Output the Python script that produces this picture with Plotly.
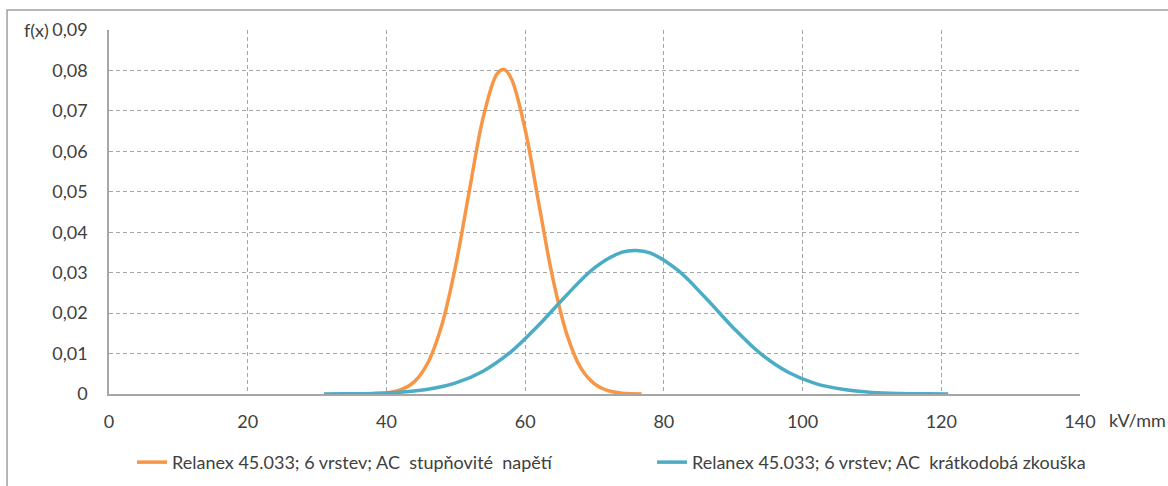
import plotly.graph_objects as go

# ---- data ----
orange_x = [40, 42, 44, 46, 48, 50, 52, 54, 56, 57, 58, 60, 62, 64, 66, 68, 70, 72, 74, 76.8]
orange_y = [0.00028, 0.0010, 0.0030, 0.0078, 0.0171, 0.0319, 0.0507, 0.0687, 0.0793, 0.0802,
            0.0780, 0.0654, 0.0468, 0.0285, 0.0148, 0.0065, 0.0025, 0.0008, 0.0002, 0.00003]

blue_x = [31, 34, 38, 42, 46, 50, 54, 58, 62, 66, 70, 74, 76, 78, 82, 86, 90, 94, 98, 102,
          106, 110, 114, 118, 121]
blue_y = [0.00002, 0.00004, 0.00015, 0.00044, 0.00117, 0.00274, 0.00571, 0.0105, 0.0171,
          0.0245, 0.0312, 0.0351, 0.0355, 0.0349, 0.0306, 0.0238, 0.0164, 0.0099, 0.0053,
          0.0025, 0.0011, 0.0004, 0.00013, 0.00004, 0.00001]

orange_name = "Relanex 45.033; 6 vrstev; AC \u00a0stupňovité \u00a0napětí"
blue_name = "Relanex 45.033; 6 vrstev; AC \u00a0krátkodobá zkouška"

x_ticks = [0, 20, 40, 60, 80, 100, 120, 140]
x_tick_labels = ["0", "20", "40", "60", "80", "100", "120", "140"]
y_ticks = [0, 0.01, 0.02, 0.03, 0.04, 0.05, 0.06, 0.07, 0.08, 0.09]
y_tick_labels = ["0", "0,01", "0,02", "0,03", "0,04", "0,05", "0,06", "0,07", "0,08", "0,09"]

FONT = "Lato"
FS = 18
TXT = "#404040"
GRID = "#a6a6a6"
DASH = "4px,3px"

fig = go.Figure()
fig.add_trace(go.Scatter(x=orange_x, y=orange_y, mode="lines", name=orange_name, legend="legend",
                         line=dict(color="#F79646", width=3.5, shape="spline", smoothing=1.0)))
fig.add_trace(go.Scatter(x=blue_x, y=blue_y, mode="lines", name=blue_name, legend="legend2",
                         line=dict(color="#4BACC6", width=3.5, shape="spline", smoothing=1.0)))

leg_common = dict(orientation="h", xanchor="left", y=-0.188, yanchor="middle",
                  font=dict(family=FONT, size=FS, color=TXT), bgcolor="rgba(0,0,0,0)")

fig.update_layout(
    width=1168, height=486,
    margin=dict(l=109, r=88, t=30, b=91.5, autoexpand=False),
    paper_bgcolor="white", plot_bgcolor="white",
    font=dict(family=FONT, size=FS, color=TXT),
    showlegend=True,
    legend=dict(x=0.0237, **leg_common),
    legend2=dict(x=0.5592, **leg_common),
    xaxis=dict(range=[0, 140], tickvals=x_ticks, ticktext=x_tick_labels,
               showgrid=True, gridcolor=GRID, griddash=DASH, gridwidth=1,
               showline=True, linecolor=GRID, linewidth=1.5, zeroline=False,
               ticks="", ticklabelstandoff=11, tickfont=dict(size=FS, color=TXT)),
    yaxis=dict(range=[0, 0.09], tickvals=y_ticks, ticktext=y_tick_labels,
               showgrid=True, gridcolor=GRID, griddash=DASH, gridwidth=1,
               showline=True, linecolor=GRID, linewidth=1.5, zeroline=False,
               ticks="", ticklabelstandoff=16, tickfont=dict(size=FS, color=TXT)),
)

# outer chart border
fig.add_shape(type="rect", xref="paper", yref="paper",
              x0=-0.105, x1=1.3, y0=-0.6, y1=1.055,
              line=dict(color="#a0a0a0", width=1.5), fillcolor="rgba(0,0,0,0)", layer="below")

fig.add_annotation(text="f(x)", xref="paper", yref="paper", x=-0.0896, y=1.0,
                   xanchor="left", yanchor="middle", showarrow=False,
                   font=dict(family=FONT, size=FS, color=TXT))
fig.add_annotation(text="kV/mm", xref="paper", yref="paper", x=1.0278, y=-0.071,
                   xanchor="left", yanchor="middle", showarrow=False,
                   font=dict(family=FONT, size=FS, color=TXT))

fig.write_html("out.html")
